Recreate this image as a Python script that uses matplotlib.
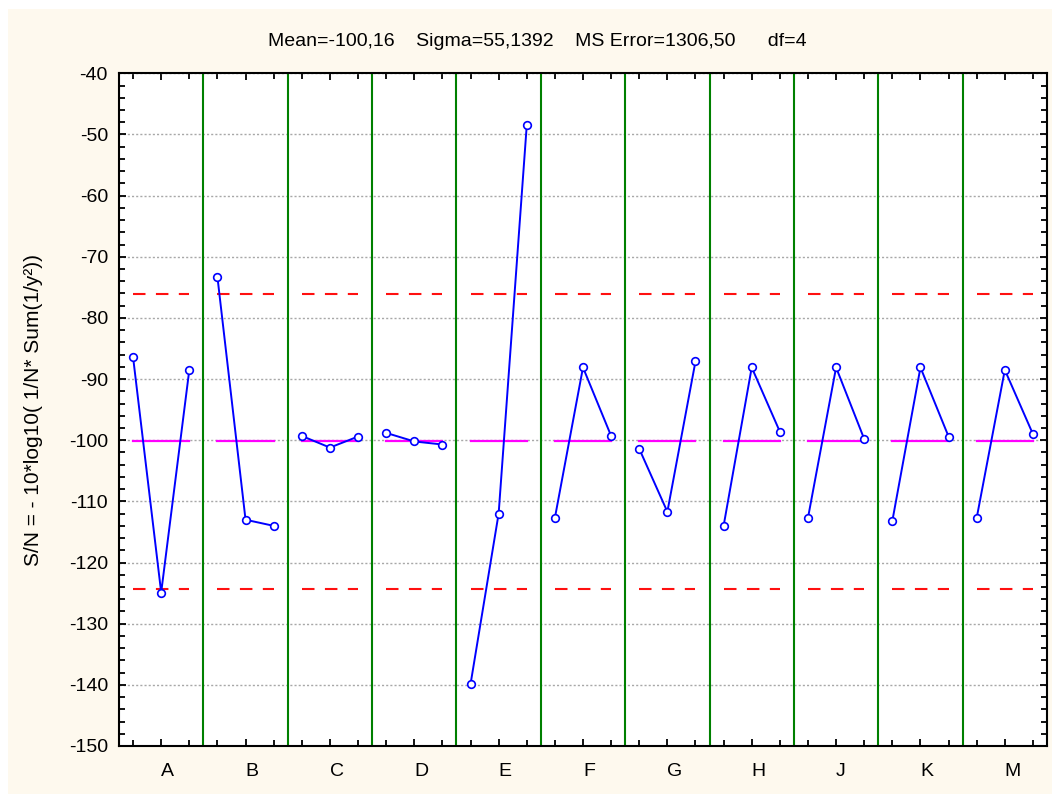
import matplotlib
matplotlib.use("Agg")
import matplotlib.pyplot as plt
from matplotlib.patches import Rectangle
from matplotlib.ticker import MultipleLocator, FixedLocator

plt.rcParams['font.family'] = ['Liberation Sans', 'DejaVu Sans']
plt.rcParams['axes.unicode_minus'] = False

# ---- data ----
factors = ['A', 'B', 'C', 'D', 'E', 'F', 'G', 'H', 'J', 'K', 'M']
level1 = [-86.4, -73.3, -99.3, -98.8, -139.9, -112.7, -101.4, -114.0, -112.7, -113.2, -112.7]
level2 = [-124.9, -113.0, -101.2, -100.2, -112.0, -88.1, -111.7, -88.1, -88.1, -88.1, -88.5]
level3 = [-88.5, -114.0, -99.4, -100.7, -48.5, -99.3, -87.1, -98.6, -99.8, -99.4, -99.0]
grand_mean = -100.16
upper_limit = -76.06
lower_limit = -124.26
title_text = "Mean=-100,16    Sigma=55,1392    MS Error=1306,50      df=4"
ylabel_text = "S/N = - 10*log10( 1/N* Sum(1/y²))"

W, H = 1052, 794
fig = plt.figure(figsize=(W / 100, H / 100), dpi=100, facecolor='white')
fig.patches.append(Rectangle((8 / W, 0), 1 - 8 / W, 1 - 9 / H, transform=fig.transFigure,
                             facecolor='#FEF9EE', edgecolor='none', zorder=-10))

ax = fig.add_axes([119 / W, 1 - 746 / H, (1047 - 119) / W, (746 - 73.3) / H])
ax.set_facecolor('white')

n = len(factors)
for i, f in enumerate(factors):
    xs = [3 * i + 1, 3 * i + 2, 3 * i + 3]
    ys = [level1[i], level2[i], level3[i]]
    ax.plot([xs[0], xs[2]], [upper_limit, upper_limit], color='#FF1010', lw=1.5,
            linestyle=(0, (6, 5)), zorder=3)
    ax.plot([xs[0], xs[2]], [lower_limit, lower_limit], color='#FF1010', lw=1.5,
            linestyle=(0, (6, 5)), zorder=3)
    ax.plot([xs[0], xs[2]], [grand_mean, grand_mean], color='#FF00FF', lw=1.6, zorder=3)
    ax.plot(xs, ys, color='#0000FF', lw=1.4, marker='o', ms=5.5, mfc='white',
            mec='#0000FF', mew=1.2, zorder=4)
    if i < n - 1:
        ax.axvline(3 * i + 3.5, color='#008000', lw=1.5, zorder=2)

ax.set_xlim(0.5, 3 * n + 0.5)
ax.set_ylim(-150, -40)

ax.yaxis.set_major_locator(MultipleLocator(10))
ax.yaxis.set_minor_locator(MultipleLocator(2))
ax.xaxis.set_major_locator(FixedLocator([3 * i + 2 for i in range(n)]))
ax.xaxis.set_minor_locator(FixedLocator(list(range(1, 3 * n + 1))))
ax.set_xticklabels(factors)
for lab in ax.get_xticklabels():
    lab.set_horizontalalignment('left')

ax.tick_params(axis='both', which='both', direction='in', top=True, right=True,
               color='black', width=1.3)
ax.tick_params(axis='both', which='major', length=5, labelsize=14)
ax.tick_params(axis='both', which='minor', length=4)
ax.tick_params(axis='x', which='major', pad=12)
ax.tick_params(axis='y', which='major', pad=8)

ax.grid(axis='y', which='major', color='#A8A8A8', linestyle=(0, (1.5, 1.5)), lw=1.0, zorder=1)
for s in ax.spines.values():
    s.set_linewidth(1.5)
    s.set_color('black')

fig.text(537 / W, 1 - 42 / H, title_text, ha='center', va='center', fontsize=14)
fig.text(34 / W, 1 - 410 / H, ylabel_text, rotation=90, ha='center', va='center', fontsize=15)

fig.savefig('out.png', dpi=100, facecolor=fig.get_facecolor())
